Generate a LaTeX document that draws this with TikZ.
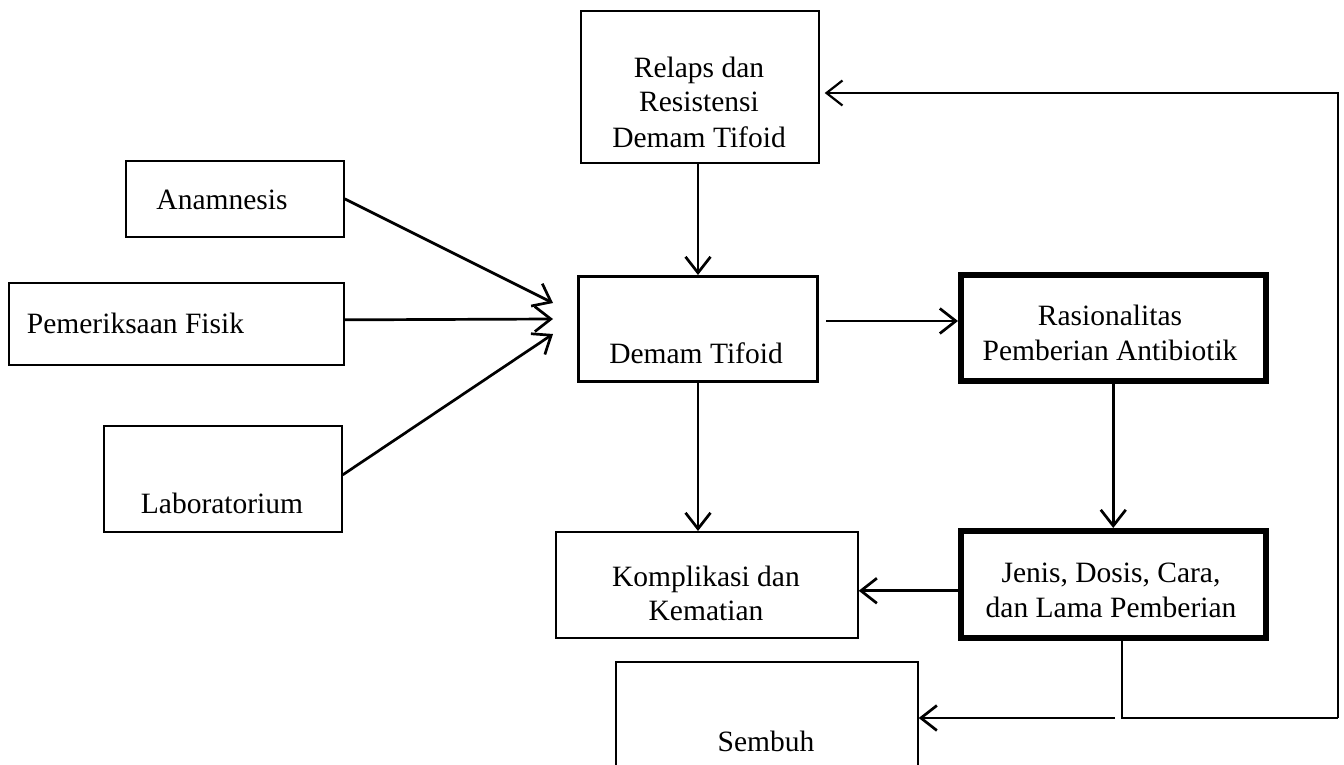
\documentclass[tikz,border=0pt]{standalone}
\usepackage{fontspec}
\setmainfont{Liberation Serif}
\usetikzlibrary{arrows.meta,calc}
\begin{document}
\begin{tikzpicture}[x=1pt,y=-1pt,
  box/.style={draw, line width=1.7pt, inner sep=0pt, anchor=north west},
  thickbox/.style={box, line width=5.5pt},
  midbox/.style={box, line width=3pt},
  txt/.style={anchor=base, inner sep=0pt, font=\fontsize{29.5}{34}\selectfont},
  arr/.style={line width=2.7pt, -{Straight Barb[length=16pt,width=25pt]}},
  plain/.style={line width=2.2pt}]
\clip (0,0) rectangle (1344,765);
\fill[white] (0,0) rectangle (1344,765);
% boxes
\node[box, minimum width=238pt, minimum height=152pt] (rel) at (580,10) {};
\node[box, minimum width=218pt, minimum height=76pt] (ana) at (125,160) {};
\node[box, minimum width=335pt, minimum height=82pt] (pem) at (8,282) {};
\node[box, minimum width=238pt, minimum height=106pt] (lab) at (103,425) {};
\node[midbox, minimum width=239pt, minimum height=105pt] (dem) at (577,275) {};
\node[thickbox, minimum width=305pt, minimum height=106pt] (ras) at (958,272) {};
\node[box, minimum width=302pt, minimum height=106pt] (kom) at (555,531) {};
\node[thickbox, minimum width=305pt, minimum height=107pt] (jen) at (958,528) {};
\node[box, minimum width=302pt, minimum height=140pt] (sem) at (615,661) {};
% texts
\node[txt] (relT1) at (699,78) {Relaps dan};
\node[txt] (relT2) at (699,112) {Resistensi};
\node[txt] (relT3) at (699,147) {Demam Tifoid};
\node[txt] (anaT) at (222,209) {Anamnesis};
\node[txt] (pemT) at (135.5,333) {Pemeriksaan Fisik};
\node[txt] (labT) at (222,513) {Laboratorium};
\node[txt] (demT) at (696,363) {Demam Tifoid};
\node[txt] (rasT1) at (1110,325) {Rasionalitas};
\node[txt] (rasT2) at (1110,360) {Pemberian Antibiotik};
\node[txt] (komT1) at (706,586) {Komplikasi dan};
\node[txt] (komT2) at (706,620) {Kematian};
\node[txt] (jenT1) at (1111,582) {Jenis, Dosis, Cara,};
\node[txt] (jenT2) at (1111,617) {dan Lama Pemberian};
\node[txt] (semT) at (766,751) {Sembuh};
% free ends
\coordinate (tA) at (553,303);
\coordinate (tP) at (553,319);
\coordinate (tL) at (553,334);
\coordinate (dr) at ([xshift=7pt,yshift=8pt]dem.east);
\coordinate (jw) at ([yshift=-6.5pt]jen.west);
\coordinate (js) at ([xshift=8.5pt]jen.south);
\coordinate (cb) at (1338,718);
\coordinate (ct) at (1338,93);
\coordinate (sa) at (1115,718);
% connectors
\draw[arr] (ana.east) -- (tA);
\draw[arr] ([yshift=4pt]pem.east) -- (tP);
\draw[arr] ([yshift=4pt]lab.east) -- (tL);
\draw[arr] (dem.north |- rel.south) -- (dem.north);
\draw[arr] (dr) -- (dr -| ras.west);
\draw[arr] (ras.south) -- (jen.north);
\draw[arr] (dem.south) -- (dem.south |- kom.north);
\draw[arr] (jw) -- (jw -| kom.east);
\draw[plain] (js) -- (js |- cb) -- (cb);
\draw[plain, -{Straight Barb[length=16pt,width=25pt]}, shorten >=5pt] (cb) -- (ct) -- (rel.east |- ct);
\draw[arr] (sa) -- (sa -| sem.east);
\end{tikzpicture}
\end{document}
